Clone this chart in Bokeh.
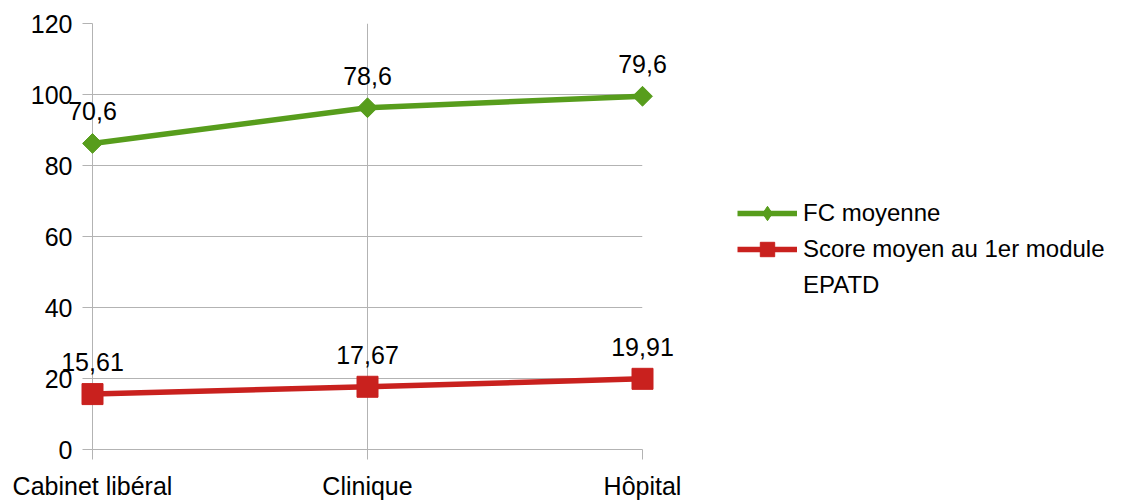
import numpy as np
from bokeh.plotting import figure
from bokeh.models import Range1d, FixedTicker, Legend, LegendItem, ColumnDataSource
from bokeh.core.properties import value
from bokeh.embed import file_html
from bokeh.resources import INLINE

categories = ["Cabinet libéral", "Clinique", "Hôpital"]
fc_moyenne = [70.6, 78.6, 79.6]
score_epatd = [15.61, 17.67, 19.91]
y_ticks = [0, 20, 40, 60, 80, 100, 120]

FONT = "Liberation Sans"
GREEN = "#579d1c"
RED = "#c9211e"
GRID = "#b3b3b3"

x = list(range(len(categories)))
# stacked line chart: the FC series is drawn on top of the score series
fc_stacked = (np.array(score_epatd) + np.array(fc_moyenne)).tolist()

def fmt(v):
    return ("%g" % v).replace(".", ",")

src_red = ColumnDataSource(dict(x=x, y=score_epatd, lab=[fmt(v) for v in score_epatd]))
src_green = ColumnDataSource(dict(x=x, y=fc_stacked, lab=[fmt(v) for v in fc_moyenne]))

p = figure(width=1121, height=484, output_backend="svg", toolbar_location=None,
           x_range=Range1d(0, 2), y_range=Range1d(0, 120),
           frame_width=550, frame_height=426,
           min_border_left=92, min_border_right=479, min_border_top=23, min_border_bottom=35)
p.outline_line_color = None
p.background_fill_color = "white"
p.border_fill_color = "white"

p.xaxis.ticker = FixedTicker(ticks=x)
p.xaxis.major_label_overrides = {i: c for i, c in zip(x, categories)}
p.yaxis.ticker = FixedTicker(ticks=y_ticks)
for ax in (p.xaxis, p.yaxis):
    ax.axis_line_color = GRID
    ax.major_tick_line_color = GRID
    ax.minor_tick_line_color = None
    ax.major_tick_in = 0
    ax.major_tick_out = 10
    ax.major_label_text_font = FONT
    ax.major_label_text_font_size = "25px"
    ax.major_label_text_color = "#000000"
p.yaxis.major_label_standoff = 10
p.xaxis.major_label_standoff = 12
p.xgrid.ticker = FixedTicker(ticks=x)
p.ygrid.ticker = FixedTicker(ticks=y_ticks)
p.xgrid.grid_line_color = GRID
p.ygrid.grid_line_color = GRID

r_red_l = p.line("x", "y", source=src_red, line_color=RED, line_width=5.5, level="overlay")
r_red_m = p.scatter("x", "y", source=src_red, marker="square", size=21,
                    fill_color=RED, line_color=RED, level="overlay")
r_green_l = p.line("x", "y", source=src_green, line_color=GREEN, line_width=5.5, level="overlay")
r_green_m = p.scatter("x", "y", source=src_green, marker="square", size=14, angle=np.pi / 4,
                      fill_color=GREEN, line_color=GREEN, level="overlay")
# legend swatch only (hidden on the plot): diamond shape for the FC legend entry
r_green_key = p.scatter("x", "y", source=src_green, marker="diamond", size=24,
                        fill_color=GREEN, line_color=GREEN, visible=False)

for s in (src_red, src_green):
    p.text("x", "y", text="lab", source=s, text_align="center", text_baseline="middle",
           y_offset=-32, text_font=value(FONT), text_font_size="25px", text_color="#000000",
           level="overlay")

legend = Legend(items=[
    LegendItem(label="FC moyenne", renderers=[r_green_l, r_green_key]),
    LegendItem(label="Score moyen au 1er module", renderers=[r_red_l, r_red_m]),
    LegendItem(label="EPATD", renderers=[]),
], location=(95, 146))
legend.border_line_color = None
legend.background_fill_alpha = 0
legend.inactive_fill_alpha = 0
legend.label_text_font = FONT
legend.label_text_font_size = "24px"
legend.label_text_color = "#000000"
legend.glyph_width = 60
legend.glyph_height = 36
legend.label_standoff = 6
legend.spacing = 0
legend.padding = 10
legend.margin = 0
p.add_layout(legend, "right")

open("out.html", "w").write(file_html(p, INLINE))
